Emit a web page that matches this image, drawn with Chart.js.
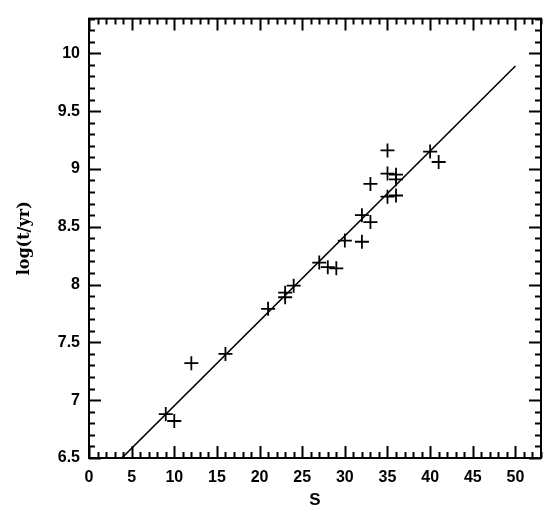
<!DOCTYPE html>
<html>
<head>
<meta charset="utf-8">
<script src="https://cdn.jsdelivr.net/npm/chart.js@4/dist/chart.umd.min.js"></script>
<style>
  html, body { margin: 0; padding: 0; background: #fff; }
  #wrap { width: 560px; height: 512px; }
</style>
</head>
<body>
<div id="wrap"><canvas id="chart"></canvas></div>
<script>
const xTicks = [0, 5, 10, 15, 20, 25, 30, 35, 40, 45, 50];
const yTicks = [6.5, 7, 7.5, 8, 8.5, 9, 9.5, 10];
const xRange = [0, 53];
const yRange = [6.5, 10.3];

const sValues = [9, 10, 12, 16, 21, 23, 23, 24, 27, 28, 29, 30, 32, 32, 33, 33, 35, 35, 35, 36, 36, 36, 40, 41];
const logAge = [6.88, 6.82, 7.32, 7.40, 7.79, 7.89, 7.93, 7.99, 8.19, 8.15, 8.14, 8.38, 8.37, 8.60, 8.54, 8.87, 9.16, 8.96, 8.76, 8.95, 8.91, 8.77, 9.15, 9.06];

const fitX = [3.85, 50.0];
const fitY = [6.5, 9.89];

document.addEventListener("DOMContentLoaded", initChart);

// ticks drawn inward on all four sides, plus the box frame
const frameTicks = {
  id: "frameTicks",
  afterDraw(chart) {
    const { ctx, chartArea: a, scales } = chart;
    const xs = scales.x;
    const ys = scales.y;
    ctx.save();
    ctx.strokeStyle = "#000";
    ctx.lineWidth = 2;
    ctx.lineCap = "butt";
    ctx.beginPath();

    for (let v = xRange[0]; v <= xRange[1]; v += 1) {
      const px = Math.round(xs.getPixelForValue(v)) + 0.5;
      const len = v % 5 === 0 ? 12 : 6;
      ctx.moveTo(px, a.bottom);
      ctx.lineTo(px, a.bottom - len);
      ctx.moveTo(px, a.top);
      ctx.lineTo(px, a.top + len);
    }

    for (let i = 0; i <= 38; i++) {
      const v = yRange[0] + i * 0.1;
      const py = Math.round(ys.getPixelForValue(v)) + 0.5;
      const len = i % 5 === 0 ? 12 : 6;
      ctx.moveTo(a.left, py);
      ctx.lineTo(a.left + len, py);
      ctx.moveTo(a.right, py);
      ctx.lineTo(a.right - len, py);
    }
    ctx.stroke();

    ctx.strokeRect(a.left, a.top, a.right - a.left, a.bottom - a.top);
    ctx.restore();
  }
};

function initChart() {
  const ctx = document.getElementById("chart").getContext("2d");

  new Chart(ctx, {
    type: "scatter",
    data: {
      datasets: [
        {
          label: "fit",
          data: fitX.map((x, i) => ({ x, y: fitY[i] })),
          showLine: true,
          borderColor: "#000",
          borderWidth: 1.6,
          pointRadius: 0,
          fill: false
        },
        {
          label: "clusters",
          data: sValues.map((x, i) => ({ x, y: logAge[i] })),
          pointStyle: "cross",
          pointRadius: 7,
          pointBorderWidth: 1.8,
          borderColor: "#000",
          backgroundColor: "#000"
        }
      ]
    },
    options: {
      responsive: true,
      maintainAspectRatio: false,
      animation: false,
      layout: {
        padding: { left: 0, right: 19, top: 11, bottom: 0 }
      },
      plugins: {
        legend: { display: false },
        tooltip: { enabled: false }
      },
      scales: {
        x: {
          type: "linear",
          min: xRange[0],
          max: xRange[1],
          afterBuildTicks: (scale) => {
            scale.ticks = xTicks.map((value) => ({ value }));
          },
          afterFit: (scale) => {
            scale.height = 54;
          },
          grid: { display: false, drawTicks: false },
          border: { display: false },
          ticks: {
            color: "#000",
            padding: 10,
            maxRotation: 0,
            autoSkip: false,
            callback: (value) => String(value),
            font: { family: "Liberation Sans", size: 16, weight: "bold" }
          },
          title: {
            display: true,
            text: "S",
            color: "#000",
            padding: { top: 0, bottom: 1 },
            font: { family: "Liberation Sans", size: 17, weight: "bold" }
          }
        },
        y: {
          type: "linear",
          min: yRange[0],
          max: yRange[1],
          afterBuildTicks: (scale) => {
            scale.ticks = yTicks.map((value) => ({ value }));
          },
          afterFit: (scale) => {
            scale.width = 89;
          },
          grid: { display: false, drawTicks: false },
          border: { display: false },
          ticks: {
            color: "#000",
            padding: 9,
            autoSkip: false,
            callback: (value) => String(value),
            font: { family: "Liberation Sans", size: 16, weight: "bold" }
          },
          title: {
            display: true,
            text: "log(t/yr)",
            color: "#000",
            padding: { top: 15, bottom: 0 },
            font: { family: "DejaVu Serif", size: 16, weight: "bold" }
          }
        }
      }
    },
    plugins: [frameTicks]
  });
}
</script>
</body>
</html>
